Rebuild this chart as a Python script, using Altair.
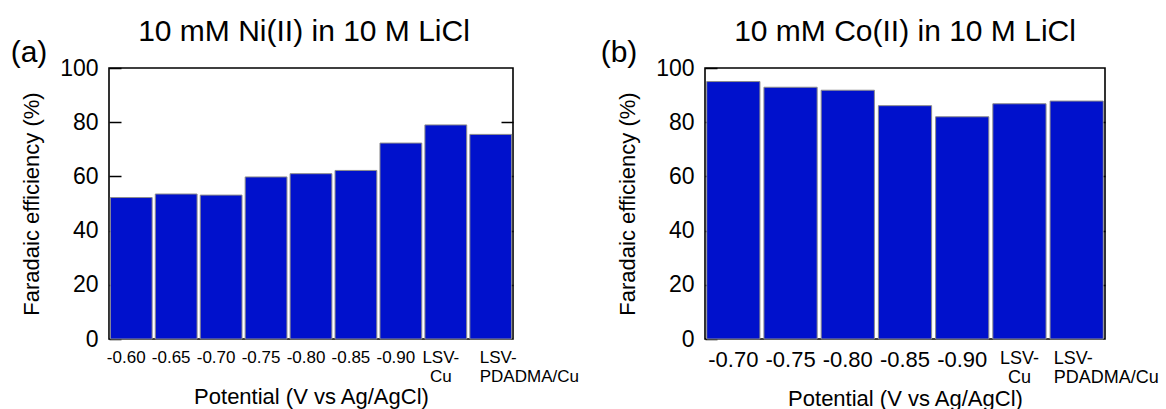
import altair as alt
import pandas as pd

ni_labels = ["-0.60", "-0.65", "-0.70", "-0.75", "-0.80", "-0.85", "-0.90", "LSV-Cu", "LSV-PDADMA/Cu"]
ni_values = [52.2, 53.5, 53.1, 59.8, 61.0, 62.2, 72.3, 79.0, 75.5]
co_labels = ["-0.70", "-0.75", "-0.80", "-0.85", "-0.90", "LSV-Cu", "LSV-PDADMA/Cu"]
co_values = [95.0, 92.9, 91.8, 86.1, 82.0, 86.8, 87.8]
titles = ["10 mM Ni(II) in 10 M LiCl", "10 mM Co(II) in 10 M LiCl"]
panel_tags = ["(a)", "(b)"]
y_ticks = [0, 20, 40, 60, 80, 100]

FONT = "Liberation Sans"
BLUE = "#0011CC"


def panel(labels, values, title, tag, num_size, lsv_size, label_offset, pdadma_offset,
          tag_dx, width, title_dx):
    df = pd.DataFrame({"cond": labels, "fe": values})
    x = alt.X(
        "cond:N",
        sort=labels,
        scale=alt.Scale(paddingInner=0.07, paddingOuter=0.03),
        axis=alt.Axis(
            title="Potential (V vs Ag/AgCl)",
            labelAngle=0,
            ticks=False,
            domain=False,
            labelOverlap=False,
            labelPadding=10,
            labelLineHeight=19,
            labelExpr="indexof(datum.label, 'LSV-') == 0 ? ['LSV-', substring(datum.label, 4)] : datum.label",
            labelFontSize={"condition": {"test": "indexof(datum.value, 'LSV') == 0", "value": lsv_size}, "value": num_size},
            labelAlign={"condition": {"test": "indexof(datum.value, 'PDADMA') >= 0", "value": "left"}, "value": "center"},
            labelOffset={"condition": {"test": "indexof(datum.value, 'PDADMA') >= 0", "value": pdadma_offset}, "value": label_offset},
            titleFontSize=22,
            titlePadding=2,
        ),
    )
    y_left = alt.Y(
        "fe:Q",
        scale=alt.Scale(domain=[0, 100], nice=False),
        axis=alt.Axis(
            title="Faradaic efficiency (%)",
            values=y_ticks,
            grid=False,
            domain=False,
            tickSize=12,
            offset=-12,
            labelPadding=11,
            labelFontSize=23,
            titleFontSize=22,
            titlePadding=16,
        ),
    )
    y_right = alt.Y(
        "fe:Q",
        scale=alt.Scale(domain=[0, 100], nice=False),
        axis=alt.Axis(
            orient="right",
            title=None,
            labels=False,
            values=y_ticks[1:-1],
            grid=False,
            domain=False,
            tickSize=12,
            offset=-12,
        ),
    )
    bars = alt.Chart(df).mark_bar(color=BLUE, stroke="#8c8c8c", strokeWidth=1).encode(x=x, y=y_left)
    ghost = alt.Chart(df).mark_bar(opacity=0).encode(x=x, y=y_right)
    tag_text = alt.Chart(pd.DataFrame({"tag": [tag]})).mark_text(
        fontSize=30, font=FONT, align="center", baseline="middle", color="black"
    ).encode(text="tag:N", x=alt.value(tag_dx), y=alt.value(-15))
    return (
        alt.layer(bars, ghost, tag_text)
        .resolve_axis(y="independent")
        .properties(
            width=width,
            height=271,
            title=alt.TitleParams(
                text=title, fontSize=30, font=FONT, fontWeight="normal",
                anchor="middle", frame="group", offset=-9, dx=title_dx, color="black",
            ),
        )
    )


pa = panel(ni_labels, ni_values, titles[0], panel_tags[0], 17, 17, -5, -11, -80, 404, -7)
pb = panel(co_labels, co_values, titles[1], panel_tags[1], 22, 18, 0, -23, -86, 400, 0)

chart = (
    alt.hconcat(pa, pb, spacing=192, bounds="flush")
    .properties(padding={"left": 9, "top": 16, "right": 5, "bottom": 0})
    .configure_view(stroke="black", strokeWidth=1.6)
    .configure_axis(
        labelFont=FONT, titleFont=FONT, labelColor="black", titleColor="black",
        tickColor="black", tickWidth=1.5, titleFontWeight="normal",
    )
)

chart.save("out.html", embed_options={"renderer": "svg", "actions": False})
